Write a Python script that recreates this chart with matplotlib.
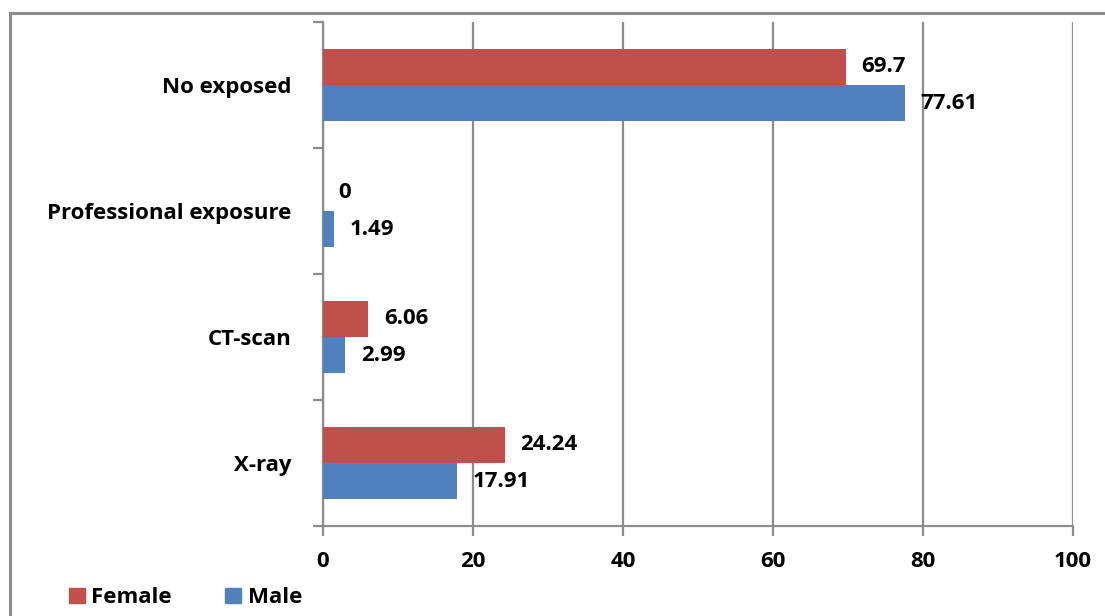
import matplotlib.pyplot as plt
from matplotlib.patches import Patch, Rectangle

# Exposure categories (bottom to top) and percentages per sex
categories = ["X-ray", "CT-scan", "Professional exposure", "No exposed"]
female = [24.24, 6.06, 0, 69.7]
male = [17.91, 2.99, 1.49, 77.61]
label_female = ["24.24", "6.06", "0", "69.7"]
label_male = ["17.91", "2.99", "1.49", "77.61"]

c_female = "#C0504D"
c_male = "#4F81BD"
grey = "#8C8C8C"
font = "Open Sans"
fsize = 16

fig = plt.figure(figsize=(11.05, 6.16), dpi=100)
ax = fig.add_axes([0.2923, 0.1461, 0.6787, 0.8182])

# outer chart border
fig.patches.append(Rectangle((10 / 1105, -0.1), 1.2, 1 - 13 / 616 + 0.1,
                             transform=fig.transFigure, fill=False,
                             edgecolor=grey, linewidth=2.2))

h = 0.286
y = list(range(len(categories)))
ax.barh([v + h / 2 for v in y], female, height=h, color=c_female, zorder=3)
ax.barh([v - h / 2 for v in y], male, height=h, color=c_male, zorder=3)

for i in y:
    ax.text(female[i] + 2.1, i + h / 2, label_female[i], va="center", ha="left",
            fontsize=fsize, fontweight="bold", family=font, zorder=4)
    ax.text(male[i] + 2.1, i - h / 2, label_male[i], va="center", ha="left",
            fontsize=fsize, fontweight="bold", family=font, zorder=4)

ax.set_xlim(0, 100)
ax.set_ylim(-0.5, 3.5)
ax.set_xticks([0, 20, 40, 60, 80, 100])
ax.set_xticklabels(["0", "20", "40", "60", "80", "100"], fontsize=fsize,
                   fontweight="bold", family=font)
ax.xaxis.grid(True, color=grey, linewidth=1.6, zorder=0)
ax.tick_params(axis="x", length=7, width=1.6, color=grey, pad=11)

# category boundaries as ticks, names as untickmarked minor labels
ax.set_yticks([-0.5, 0.5, 1.5, 2.5, 3.5])
ax.set_yticklabels([])
ax.set_yticks(y, minor=True)
ax.set_yticklabels(categories, minor=True, fontsize=fsize, fontweight="bold", family=font)
ax.tick_params(axis="y", which="major", length=7, width=1.6, color=grey)
ax.tick_params(axis="y", which="minor", length=0, pad=23)

for side in ["top", "right"]:
    ax.spines[side].set_visible(False)
for side in ["left", "bottom"]:
    ax.spines[side].set_color(grey)
    ax.spines[side].set_linewidth(1.6)

handles = [Patch(color=c_female, label="Female"), Patch(color=c_male, label="Male")]
fig.legend(handles=handles, loc="lower left", bbox_to_anchor=(0.0445, -0.02), ncol=2,
           frameon=False, prop={"family": font, "weight": "bold", "size": fsize},
           handlelength=0.7, handleheight=0.6, handletextpad=0.3, columnspacing=2.4)

fig.savefig("out.png", dpi=100)
